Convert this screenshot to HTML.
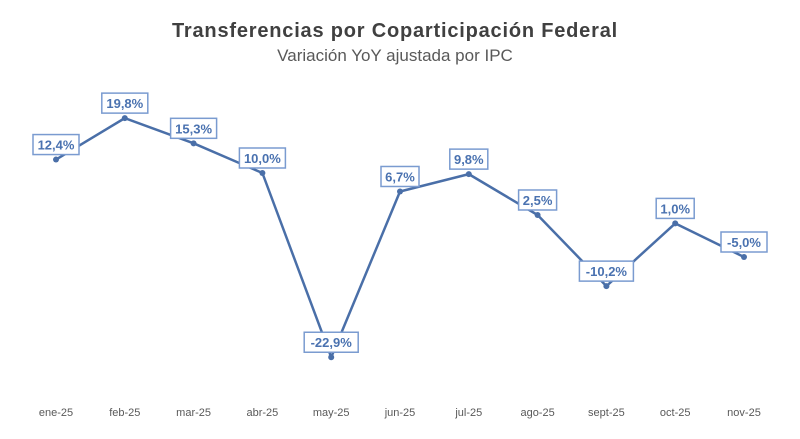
<!DOCTYPE html>
<html><head><meta charset="utf-8"><style>
body{margin:0;background:#fff;}
svg{display:block;font-family:"Liberation Sans",sans-serif;}
</style></head><body>
<svg width="800" height="439" viewBox="0 0 800 439">
<text x="395" y="37" text-anchor="middle" font-size="20" letter-spacing="0.8" font-weight="bold" fill="#404040">Transferencias por Coparticipación Federal</text>
<text x="395" y="61" text-anchor="middle" font-size="17" fill="#595959">Variación YoY ajustada por IPC</text>
<g id="plot"></g>
</svg>
<script>
const categories=["ene-25","feb-25","mar-25","abr-25","may-25","jun-25","jul-25","ago-25","sept-25","oct-25","nov-25"];
const values=[12.4,19.8,15.3,10.0,-22.9,6.7,9.8,2.5,-10.2,1.0,-5.0];
const labels=["12,4%","19,8%","15,3%","10,0%","-22,9%","6,7%","9,8%","2,5%","-10,2%","1,0%","-5,0%"];
const ns="http://www.w3.org/2000/svg";
const g=document.getElementById('plot');
const xS=i=>56+i*68.8;
const yS=v=>229-v*5.6;
function mk(t,a){const e=document.createElementNS(ns,t);for(const k in a)e.setAttribute(k,a[k]);g.appendChild(e);return e;}
const line=mk('polyline',{points:values.map((v,i)=>xS(i)+','+yS(v)).join(' '),fill:'none',stroke:'#4a6fa8','stroke-width':2.5,'stroke-linejoin':'round'});


values.forEach((v,i)=>{
 const c=mk('circle',{cx:xS(i),cy:yS(v),r:3,fill:'#4a6fa8'});
 
 
 const w=labels[i].length*8+6, cy=yS(v)-15;
 const r=mk('rect',{x:xS(i)-w/2,y:cy-10,width:w,height:20,fill:'#fff',stroke:'#7a9bd0','stroke-width':1.5});
 
 
 const t=mk('text',{x:xS(i),y:cy+5,'text-anchor':'middle','font-size':13,'font-weight':'bold',fill:'#4a72b0'});
 t.textContent=labels[i];
 
 
 const xt=mk('text',{x:xS(i),y:416,'text-anchor':'middle','font-size':11,fill:'#595959'});
 xt.textContent=categories[i];
 
 
});
</script>
</body></html>
